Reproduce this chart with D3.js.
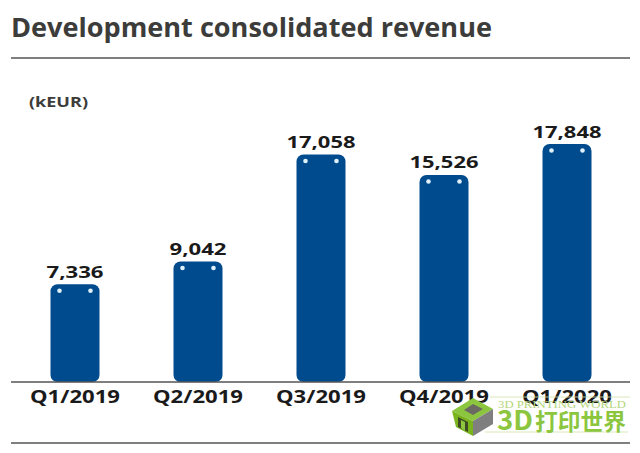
<!DOCTYPE html>
<html>
<head>
<meta charset="utf-8">
<script src="https://cdnjs.cloudflare.com/ajax/libs/d3/7.8.5/d3.min.js"></script>
<style>
  html, body { margin: 0; padding: 0; background: #fff; }
  svg { display: block; }
</style>
</head>
<body>
<div id="chart"></div>
<script>
var categories = ["Q1/2019", "Q2/2019", "Q3/2019", "Q4/2019", "Q1/2020"];
var revenue = [7336, 9042, 17058, 15526, 17848];

var width = 640, height = 453;
var blue = "#004b8d";
var fontName = "'Open Sans', sans-serif";

var svg = d3.select("#chart").append("svg")
    .attr("width", width)
    .attr("height", height);

// Title and rules
svg.append("text")
    .attr("x", 11)
    .attr("y", 37)
    .attr("font-family", fontName)
    .attr("font-weight", 700)
    .attr("font-size", 27)
    .attr("fill", "#3c3c3b")
    .attr("textLength", 481)
    .attr("lengthAdjust", "spacingAndGlyphs")
    .text("Development consolidated revenue");

svg.selectAll(".rule")
    .data([58, 443])
    .enter().append("line")
    .attr("class", "rule")
    .attr("x1", 11)
    .attr("x2", 630)
    .attr("y1", function(d){ return d; })
    .attr("y2", function(d){ return d; })
    .attr("stroke", "#555")
    .attr("stroke-width", 1.3);

svg.append("text")
    .attr("x", 29)
    .attr("y", 107)
    .attr("font-family", fontName)
    .attr("font-weight", 700)
    .attr("font-size", 15)
    .attr("fill", "#3c3c3b")
    .attr("textLength", 59)
    .attr("lengthAdjust", "spacingAndGlyphs")
    .text("(kEUR)");

// Scales
var x = d3.scaleBand()
    .domain(categories)
    .range([13.5, 628.5]);

var y = d3.scaleLinear()
    .domain([0, 17848])
    .range([382, 144]);

var barWidth = 49;
var data = categories.map(function(c, i){ return {label: c, value: revenue[i]}; });

function center(d){ return x(d.label) + x.bandwidth() / 2; }

// Bars, flat look with rounded corners
var bars = svg.selectAll(".bar")
    .data(data)
    .enter().append("g")
    .attr("class", "bar");

bars.append("rect")
    .attr("x", function(d){ return center(d) - barWidth / 2; })
    .attr("y", function(d){ return y(d.value); })
    .attr("width", barWidth)
    .attr("height", function(d){ return y(0) - y(d.value); })
    .attr("rx", 7)
    .attr("fill", blue);

// The two small dots at the top of each bar
[-15.5, 15.5].forEach(function(off){
  bars.append("circle")
      .attr("cx", function(d){ return center(d) + off; })
      .attr("cy", function(d){ return y(d.value) + 6.5; })
      .attr("r", 2.3)
      .attr("fill", "#dff1fa");
});

bars.append("text")
    .attr("x", center)
    .attr("y", function(d){ return y(d.value) - 6.5; })
    .attr("text-anchor", "middle")
    .attr("font-family", fontName)
    .attr("font-weight", 700)
    .attr("font-size", 16.5)
    .attr("fill", "#1a1a1a")
    .attr("textLength", function(d){ return d.value >= 10000 ? 69 : 57; })
    .attr("lengthAdjust", "spacingAndGlyphs")
    .text(function(d){ return d3.format(",")(d.value); });

// Baseline and category labels
var axis = svg.append("g")
    .attr("transform", "translate(0," + y(0) + ")")
    .call(d3.axisBottom(x).tickSize(0).tickPadding(9));

axis.select(".domain").remove();
axis.append("line")
    .attr("x1", 11)
    .attr("x2", 630)
    .attr("stroke", "#555")
    .attr("stroke-width", 1.3);

axis.selectAll(".tick text")
    .attr("font-family", fontName)
    .attr("font-weight", 700)
    .attr("font-size", 17.5)
    .attr("fill", "#1a1a1a")
    .attr("textLength", 90)
    .attr("lengthAdjust", "spacingAndGlyphs");

// Watermark logo, sits on top of the last labels
var mark = svg.append("g").attr("class", "watermark");
var green = "#8cc63f";

mark.selectAll(".thin")
    .data([[490, 630, 397], [485, 628, 432]])
    .enter().append("line")
    .attr("class", "thin")
    .attr("x1", function(d){ return d[0]; })
    .attr("x2", function(d){ return d[1]; })
    .attr("y1", function(d){ return d[2]; })
    .attr("y2", function(d){ return d[2]; })
    .attr("stroke", "#cfe3a8")
    .attr("stroke-width", 0.8);

var cube = [
  {points: "452,411 473,398 493,409 473,421", fill: green},
  {points: "452,411 473,421 473,436 456,427", fill: "#7ab51d"},
  {points: "473,421 493,409 493,424 473,436", fill: "#7f7f7f"},
  {points: "464,410 473,404 483,409 473,415", fill: "#6a6a62"},
  {points: "458,417 468,422 468,432 458,427", fill: "#3f4a25"},
  {points: "461,420 465,422 465,431 461,428", fill: green}
];

mark.selectAll(".face")
    .data(cube)
    .enter().append("polygon")
    .attr("class", "face")
    .attr("points", function(d){ return d.points; })
    .attr("fill", function(d){ return d.fill; });

mark.append("text")
    .attr("x", 498)
    .attr("y", 408)
    .attr("font-family", "'Liberation Serif', serif")
    .attr("font-size", 10)
    .attr("fill", "#b5d67c")
    .attr("textLength", 128)
    .attr("lengthAdjust", "spacingAndGlyphs")
    .text("3D PRINTING WORLD");

mark.selectAll(".brand")
    .data([["3D", 497, 36, 27], ["打印世界", 535, 91, 23]])
    .enter().append("text")
    .attr("class", "brand")
    .attr("x", function(d){ return d[1]; })
    .attr("y", 430)
    .attr("font-family", "'Noto Sans CJK SC', sans-serif")
    .attr("font-weight", 700)
    .attr("font-size", function(d){ return d[3]; })
    .attr("fill", green)
    .attr("textLength", function(d){ return d[2]; })
    .attr("lengthAdjust", "spacingAndGlyphs")
    .text(function(d){ return d[0]; });
</script>
</body>
</html>
